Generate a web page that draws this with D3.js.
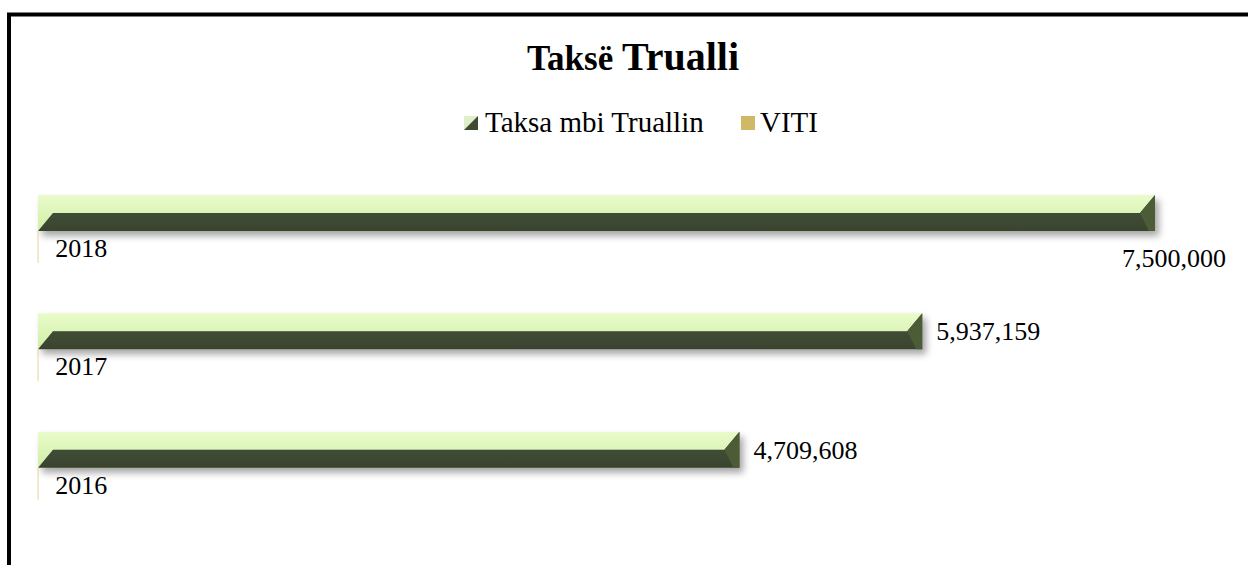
<!DOCTYPE html>
<html>
<head>
<meta charset="utf-8">
<script src="https://cdn.jsdelivr.net/npm/d3@7"></script>
<style>
  body { margin: 0; background: #fff; }
  text { font-family: "Liberation Serif", "DejaVu Serif", serif; fill: #000; }
</style>
</head>
<body>
<script>
// chart data
var years = ["2018", "2017", "2016"];
var taksa = [7500000, 5937159, 4709608];
var viti = [2018, 2017, 2016];
var seriesNames = ["Taksa mbi Truallin", "VITI"];

var width = 1248,
    height = 565;

var svg = d3.select("body").append("svg")
    .attr("width", width)
    .attr("height", height);

var defs = svg.append("defs");

var gTop = defs.append("linearGradient").attr("id", "topFace")
    .attr("x1", 0).attr("y1", 0).attr("x2", 0).attr("y2", 1);
gTop.append("stop").attr("offset", "0%").attr("stop-color", "#e9fbcb");
gTop.append("stop").attr("offset", "100%").attr("stop-color", "#d0efa4");

var gFront = defs.append("linearGradient").attr("id", "frontFace")
    .attr("x1", 0).attr("y1", 0).attr("x2", 0).attr("y2", 1);
gFront.append("stop").attr("offset", "0%").attr("stop-color", "#5a6a42");
gFront.append("stop").attr("offset", "20%").attr("stop-color", "#45533a");
gFront.append("stop").attr("offset", "100%").attr("stop-color", "#39432e");

var shadow = defs.append("filter").attr("id", "shadow")
    .attr("x", "-5%").attr("y", "-50%").attr("width", "110%").attr("height", "220%");
shadow.append("feDropShadow")
    .attr("dx", 4).attr("dy", 5).attr("stdDeviation", 3.5)
    .attr("flood-color", "#000").attr("flood-opacity", 0.35);

// outer frame
svg.append("rect")
    .attr("x", 9).attr("y", 14.5)
    .attr("width", 1260).attr("height", 600)
    .attr("fill", "none")
    .attr("stroke", "#000")
    .attr("stroke-width", 4);

// title
var title = svg.append("text")
    .attr("x", 633).attr("y", 70)
    .attr("text-anchor", "middle")
    .style("font-weight", "bold");
title.append("tspan").style("font-size", "35px").text("Taksë ");
title.append("tspan").style("font-size", "40px").text("Trualli");

// legend
var legend = svg.append("g").attr("class", "legend");
legend.append("rect")
    .attr("x", 464).attr("y", 116).attr("width", 14).attr("height", 14)
    .attr("fill", "#dfeecb");
legend.append("polygon")
    .attr("points", "464,130 478,116 478,130")
    .attr("fill", "#3f4a33");
legend.append("text")
    .attr("x", 485).attr("y", 132)
    .style("font-size", "29px")
    .text(seriesNames[0]);
legend.append("rect")
    .attr("x", 741).attr("y", 116).attr("width", 14).attr("height", 14)
    .attr("fill", "#cfb866");
legend.append("text")
    .attr("x", 760).attr("y", 132)
    .style("font-size", "29px")
    .text(seriesNames[1]);

// scales
var x = d3.scaleLinear()
    .domain([0, 7500000])
    .range([38, 1155]);

var y = d3.scaleBand()
    .domain(years)
    .range([195, 550]);

var y1 = d3.scaleBand()
    .domain(seriesNames)
    .range([0, 72]);

var dx = 15, dy = 18;
var fmt = d3.format(",");

var rows = years.map(function(yr, i){
    return {year: yr, taksa: taksa[i], viti: viti[i]};
});

var bars = svg.selectAll("g.bar")
    .data(rows).enter()
    .append("g")
    .attr("class", "bar");

bars.each(function(d){
    var g = d3.select(this);
    var t = y(d.year) + y1(seriesNames[0]);
    var x0 = x(0), x1 = x(d.taksa);
    var b = t + y1.bandwidth();

    var bar = g.append("g").attr("filter", "url(#shadow)");
    bar.append("polygon")
        .attr("points", [[x0, t], [x1, t], [x1 - dx, t + dy], [x0 + dx, t + dy], [x0, b]].join(" "))
        .attr("fill", "url(#topFace)");
    bar.append("polygon")
        .attr("points", [[x0 + dx, t + dy], [x1 - dx, t + dy], [x1, t], [x1, b], [x0, b]].join(" "))
        .attr("fill", "url(#frontFace)");
    g.append("polygon")
        .attr("points", [[x1 - dx, t + dy], [x1, t], [x1, b], [x1 - dx * 0.4, b]].join(" "))
        .attr("fill", "#4c5c37");

    // value label
    var lab = g.append("text")
        .style("font-size", "26px")
        .text(fmt(d.taksa));
    var w = lab.node().getComputedTextLength();
    var lx = x1 + 14;
    var ly = t + dy + 9;
    if (lx + w > 1226) {
        lx = 1226 - w;
        ly = b + 36;
    }
    lab.attr("x", lx).attr("y", ly);

    // VITI bar (tiny) and its label
    var vt = y(d.year) + y1(seriesNames[1]);
    g.append("rect")
        .attr("x", x(0) - 0.5)
        .attr("y", vt)
        .attr("width", Math.max(x(d.viti) - x(0), 1.2))
        .attr("height", y1.bandwidth() - 4)
        .attr("fill", "#e9dcae");
    g.append("text")
        .attr("x", x(d.viti) + 17)
        .attr("y", vt + 26)
        .style("font-size", "26px")
        .text(d.viti);
});
</script>
</body>
</html>
